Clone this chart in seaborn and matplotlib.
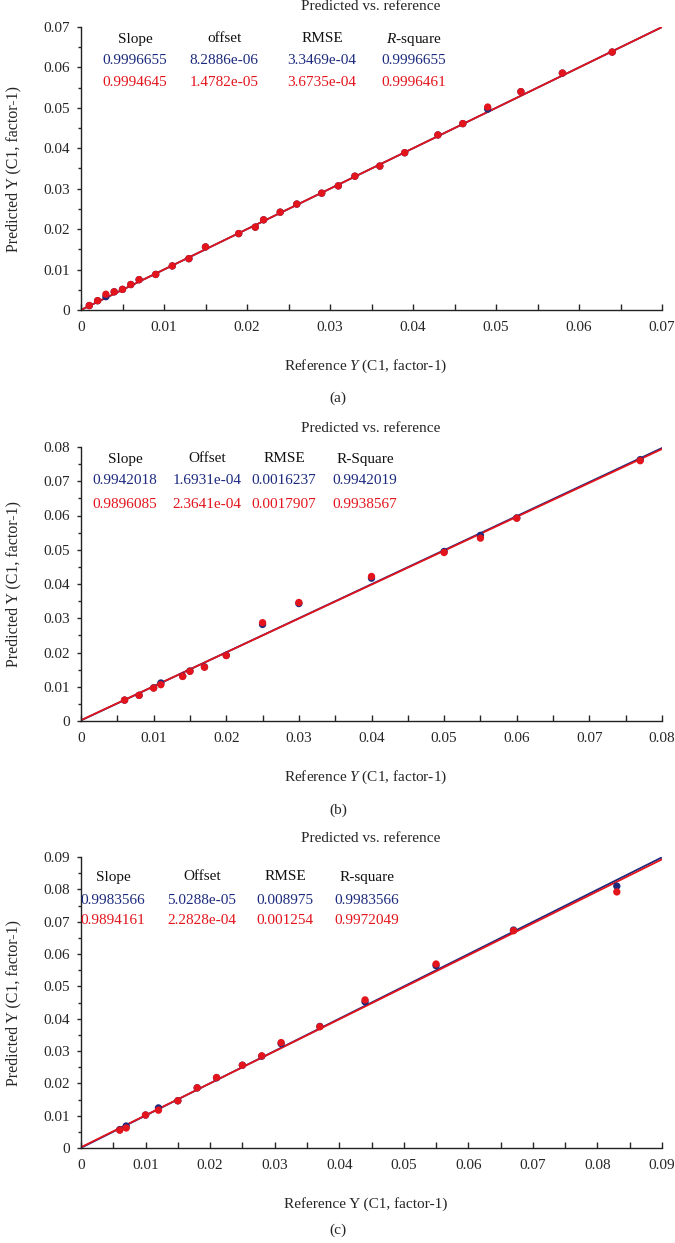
import numpy as np
import pandas as pd
import matplotlib
matplotlib.use('Agg')
import matplotlib.pyplot as plt
import seaborn as sns
from matplotlib.ticker import MultipleLocator, FuncFormatter

sns.set_style('ticks')
plt.rcParams['font.family'] = ['Liberation Serif', 'DejaVu Serif']
plt.rcParams['mathtext.fontset'] = 'custom'
plt.rcParams['mathtext.rm'] = 'Liberation Serif'
plt.rcParams['mathtext.it'] = 'Liberation Serif:italic'

NAVY = '#1c2a7e'
RED = '#e3141c'

# ---- data (a)
ref_a = [0.001, 0.002, 0.003, 0.004, 0.005, 0.006, 0.007, 0.009, 0.011, 0.013, 0.015, 0.019, 0.021, 0.022,
         0.024, 0.026, 0.029, 0.031, 0.033, 0.036, 0.039, 0.043, 0.046, 0.049, 0.053, 0.058, 0.064]
red_a = [0.0011, 0.0023, 0.0039, 0.0045, 0.0051, 0.0063, 0.0075, 0.0088, 0.0109, 0.0127, 0.0156, 0.0189, 0.0205, 0.0223,
         0.0242, 0.0262, 0.0289, 0.0307, 0.0331, 0.0356, 0.0389, 0.0433, 0.0461, 0.0502, 0.0540, 0.0586, 0.0638]
blue_a = [0.0011, 0.0023, 0.0033, 0.0045, 0.0051, 0.0063, 0.0075, 0.0088, 0.0109, 0.0127, 0.0156, 0.0189, 0.0205, 0.0223,
          0.0242, 0.0262, 0.0289, 0.0307, 0.0331, 0.0356, 0.0389, 0.0433, 0.0461, 0.0497, 0.0540, 0.0586, 0.0638]
hdr_a = ['Slope', 'offset', 'RMSE', '$R$-square']
blue_stats_a = ['0.9996655', '8.2886e-06', '3.3469e-04', '0.9996655']
red_stats_a = ['0.9994645', '1.4782e-05', '3.6735e-04', '0.9996461']

# ---- data (b)
ref_b = [0.006, 0.008, 0.010, 0.011, 0.014, 0.015, 0.017, 0.020, 0.025, 0.030, 0.040, 0.050, 0.055, 0.060, 0.077]
red_b = [0.0061, 0.0075, 0.0096, 0.0106, 0.0130, 0.0145, 0.0157, 0.0191, 0.0287, 0.0346, 0.0422, 0.0492, 0.0534, 0.0592, 0.0760]
blue_b = [0.0061, 0.0075, 0.0097, 0.0111, 0.0131, 0.0146, 0.0158, 0.0192, 0.0282, 0.0343, 0.0417, 0.0495, 0.0542, 0.0593, 0.0763]
hdr_b = ['Slope', 'Offset', 'RMSE', 'R-Square']
blue_stats_b = ['0.9942018', '1.6931e-04', '0.0016237', '0.9942019']
red_stats_b = ['0.9896085', '2.3641e-04', '0.0017907', '0.9938567']

# ---- data (c)
ref_c = [0.006, 0.007, 0.010, 0.012, 0.015, 0.018, 0.021, 0.025, 0.028, 0.031, 0.037, 0.044, 0.055, 0.067, 0.083]
red_c = [0.0055, 0.0062, 0.0102, 0.0117, 0.0146, 0.0186, 0.0218, 0.0256, 0.0285, 0.0326, 0.0375, 0.0458, 0.0569, 0.0672, 0.0792]
blue_c = [0.0057, 0.0068, 0.0102, 0.0124, 0.0146, 0.0186, 0.0217, 0.0256, 0.0284, 0.0323, 0.0376, 0.0452, 0.0564, 0.0674, 0.0810]
hdr_c = ['Slope', 'Offset', 'RMSE', 'R-square']
blue_stats_c = ['0.9983566', '5.0288e-05', '0.008975', '0.9983566']
red_stats_c = ['0.9894161', '2.2828e-04', '0.001254', '0.9972049']

W, H = 675, 1243
fig = plt.figure(figsize=(W / 100, H / 100), dpi=100)


def fx(px):
    return px / W


def fy(py):
    return 1 - py / H


panels = [
    dict(ref=ref_a, blue=blue_a, red=red_a, hdr=hdr_a, bs=blue_stats_a, rs=red_stats_a, xmax=0.07,
         top=27, bot=310, cols=[135, 224, 322, 414], rows=[39, 61, 83], ty=7, xly=366, tagy=398,
         xl='Reference $Y$ (C1, factor-1)', tag='(a)'),
    dict(ref=ref_b, blue=blue_b, red=red_b, hdr=hdr_b, bs=blue_stats_b, rs=red_stats_b, xmax=0.08,
         top=447, bot=721, cols=[125, 207, 284, 365], rows=[459, 481, 504], ty=428, xly=777, tagy=810,
         xl='Reference $Y$ (C1, factor-1)', tag='(b)'),
    dict(ref=ref_c, blue=blue_c, red=red_c, hdr=hdr_c, bs=blue_stats_c, rs=red_stats_c, xmax=0.09,
         top=857, bot=1148, cols=[113, 202, 285, 367], rows=[877, 900, 920], ty=839, xly=1204, tagy=1230,
         xl='Reference Y (C1, factor-1)', tag='(c)'),
]

fmt = FuncFormatter(lambda v, p: '0' if abs(v) < 1e-9 else f'{v:.2f}')
left, right = 81, 662

for p in panels:
    ax = fig.add_axes([fx(left), fy(p['bot']), fx(right - left), (p['bot'] - p['top']) / H])
    xm = p['xmax']

    # fit lines from slope / offset
    for stats, col in [(p['bs'], NAVY), (p['rs'], RED)]:
        s, o = float(stats[0]), float(stats[1])
        line = pd.DataFrame({'x': [0, xm], 'y': [o, s * xm + o]})
        sns.lineplot(data=line, x='x', y='y', color=col, lw=1.3, ax=ax, zorder=2)

    df = pd.DataFrame({'ref': p['ref'], 'blue': p['blue'], 'red': p['red']})
    sns.scatterplot(data=df, x='ref', y='blue', color=NAVY, s=28, edgecolor='none', ax=ax, zorder=3)
    sns.scatterplot(data=df, x='ref', y='red', color=RED, s=28, edgecolor='none', ax=ax, zorder=4)

    ax.set_xlim(0, xm)
    ax.set_ylim(0, xm)
    ax.xaxis.set_major_locator(MultipleLocator(0.01))
    ax.xaxis.set_minor_locator(MultipleLocator(0.005))
    ax.yaxis.set_major_locator(MultipleLocator(0.01))
    ax.yaxis.set_minor_locator(MultipleLocator(0.005))
    ax.xaxis.set_major_formatter(fmt)
    ax.yaxis.set_major_formatter(fmt)
    ax.tick_params(axis='x', which='both', direction='in', length=4, width=1, pad=8, labelsize=11)
    ax.tick_params(axis='y', which='major', direction='out', length=3, width=1, pad=5, labelsize=11)
    ax.tick_params(axis='y', which='minor', direction='out', length=2, width=1)
    for sp in ['top', 'right']:
        ax.spines[sp].set_visible(False)
    for sp in ['left', 'bottom']:
        ax.spines[sp].set_linewidth(1)
        ax.spines[sp].set_color('#222222')
    ax.set_xlabel('')
    ax.set_ylabel('Predicted Y (C1, factor-1)', fontsize=11.5, labelpad=16)

    # stats table
    for cx, h, b, r in zip(p['cols'], p['hdr'], p['bs'], p['rs']):
        fig.text(fx(cx), fy(p['rows'][0]), h, ha='center', va='center', fontsize=11, color='#111111')
        fig.text(fx(cx), fy(p['rows'][1]), b, ha='center', va='center', fontsize=11, color=NAVY)
        fig.text(fx(cx), fy(p['rows'][2]), r, ha='center', va='center', fontsize=11, color=RED)

    fig.text(fx(371), fy(p['ty']), 'Predicted vs. reference', ha='center', va='center', fontsize=11)
    fig.text(fx(366), fy(p['xly']), p['xl'], ha='center', va='center', fontsize=11)
    fig.text(fx(338), fy(p['tagy']), p['tag'], ha='center', va='center', fontsize=11)

plt.savefig('out.png', dpi=100)
